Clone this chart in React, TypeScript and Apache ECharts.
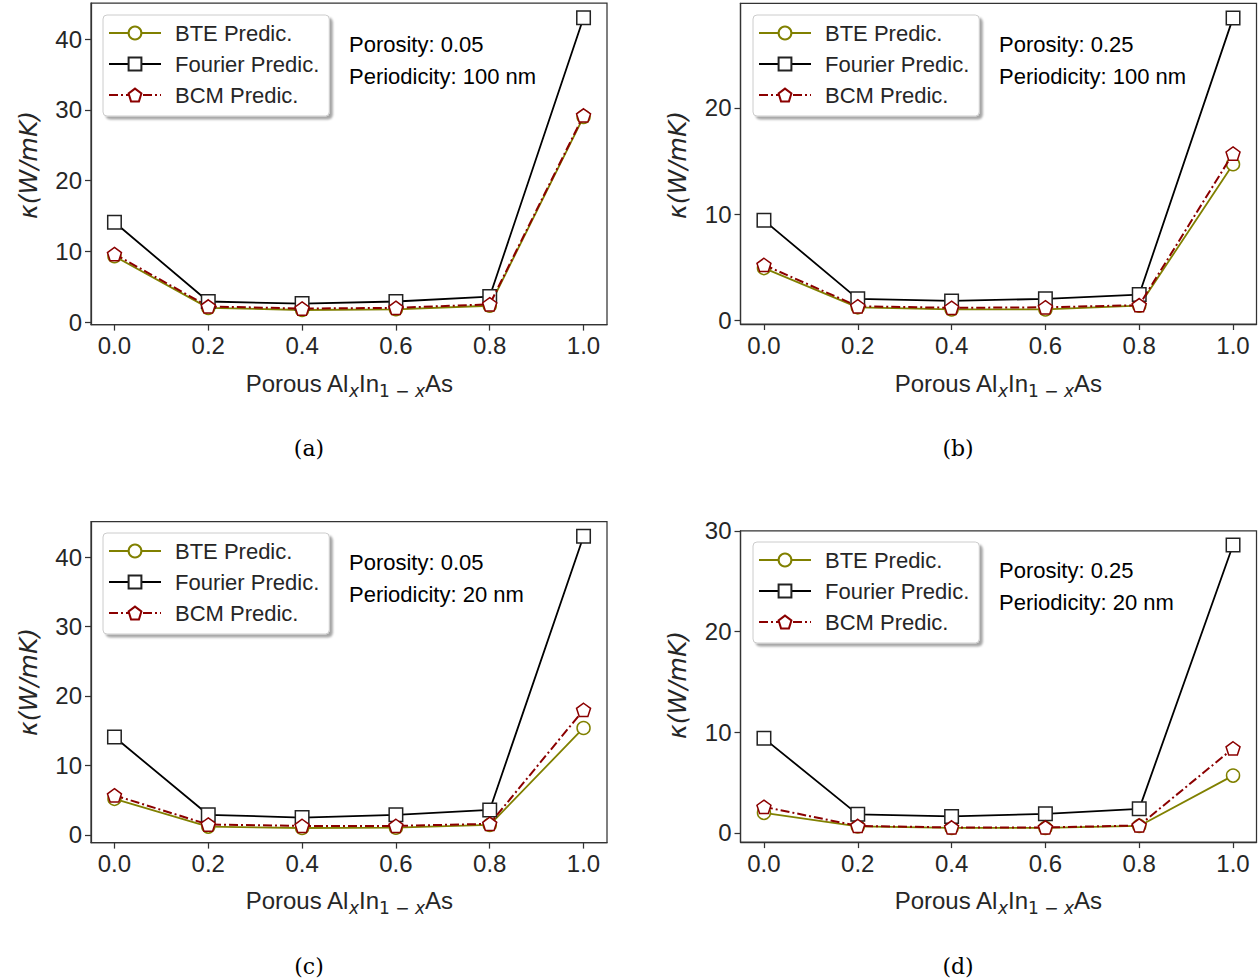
import React, { useEffect, useRef } from "react";
import * as echarts from "echarts";

// ---------- data ----------
const xValues = [0.0, 0.2, 0.4, 0.6, 0.8, 1.0];
const xTicks = [0.0, 0.2, 0.4, 0.6, 0.8, 1.0];

const seriesNames = ["BTE Predic.", "Fourier Predic.", "BCM Predic."];

// (a) Porosity 0.05, Periodicity 100 nm
const bteA = [9.3, 2.0, 1.7, 1.8, 2.3, 29.0];
const fourierA = [14.1, 2.9, 2.6, 2.9, 3.6, 43.0];
const bcmA = [9.6, 2.2, 1.9, 2.0, 2.5, 29.2];
const yTicksA = [0, 10, 20, 30, 40];

// (b) Porosity 0.25, Periodicity 100 nm
const bteB = [4.9, 1.2, 1.0, 1.0, 1.35, 14.7];
const fourierB = [9.4, 2.0, 1.8, 2.0, 2.4, 28.5];
const bcmB = [5.2, 1.3, 1.15, 1.2, 1.4, 15.7];
const yTicksB = [0, 10, 20];

// (c) Porosity 0.05, Periodicity 20 nm
const bteC = [5.2, 1.2, 1.0, 1.05, 1.45, 15.4];
const fourierC = [14.1, 2.9, 2.5, 2.9, 3.6, 43.0];
const bcmC = [5.7, 1.5, 1.3, 1.3, 1.6, 18.0];
const yTicksC = [0, 10, 20, 30, 40];

// (d) Porosity 0.25, Periodicity 20 nm
const bteD = [2.0, 0.65, 0.5, 0.5, 0.7, 5.7];
const fourierD = [9.4, 1.85, 1.65, 1.9, 2.4, 28.6];
const bcmD = [2.6, 0.7, 0.55, 0.55, 0.75, 8.4];
const yTicksD = [0, 10, 20, 30];

const porosities = ["0.05", "0.25", "0.05", "0.25"];
const periodicities = ["100 nm", "100 nm", "20 nm", "20 nm"];
const panelLabels = ["(a)", "(b)", "(c)", "(d)"];

// ---------- layout / style ----------
const OLIVE = "#808000";
const BLACK = "#000000";
const DARKRED = "#8b0000";
const TEXT = "#262626";
const SPINE = "#333333";
const SANS = "Liberation Sans, Arial, sans-serif";

const PENTAGON =
  "path://M0,-1L0.951,-0.309L0.588,0.809L-0.588,0.809L-0.951,-0.309Z";

const layouts = [
  { grid: { left: 91, top: 3.2, width: 516, height: 321.4 }, legend: { left: 103, top: 15 }, cx: 349, ann: { x: 349, y: 44 }, xt: 383, lab: 448, yt: { x: 28, y: 165 } },
  { grid: { left: 740.5, top: 3.3, width: 516, height: 320.7 }, legend: { left: 753, top: 15 }, cx: 998, ann: { x: 999, y: 44 }, xt: 383, lab: 448, yt: { x: 677, y: 165 } },
  { grid: { left: 91, top: 521.6, width: 516, height: 321 }, legend: { left: 103, top: 533 }, cx: 349, ann: { x: 349, y: 562 }, xt: 900, lab: 966, yt: { x: 28, y: 682 } },
  { grid: { left: 740.5, top: 530.9, width: 516, height: 311.2 }, legend: { left: 753, top: 542 }, cx: 998, ann: { x: 999, y: 570 }, xt: 900, lab: 966, yt: { x: 677, y: 685 } },
];

const panelData = [
  { bte: bteA, fourier: fourierA, bcm: bcmA, yTicks: yTicksA },
  { bte: bteB, fourier: fourierB, bcm: bcmB, yTicks: yTicksB },
  { bte: bteC, fourier: fourierC, bcm: bcmC, yTicks: yTicksC },
  { bte: bteD, fourier: fourierD, bcm: bcmD, yTicks: yTicksD },
];

function pairs(ys: number[]) {
  return xValues.map((x, i) => [x, ys[i]]);
}

function buildOption() {
  const grid: any[] = [];
  const xAxis: any[] = [];
  const yAxis: any[] = [];
  const series: any[] = [];
  const legend: any[] = [];
  const graphic: any[] = [];

  panelData.forEach((p, i) => {
    const L = layouts[i];
    grid.push({
      ...L.grid,
      show: true,
      borderColor: SPINE,
      borderWidth: 1.25,
      backgroundColor: "transparent",
      containLabel: false,
      outerBoundsMode: "none",
    });
    xAxis.push({
      type: "value",
      gridIndex: i,
      position: "bottom",
      min: -0.05,
      max: 1.05,
      axisLine: { show: true, onZero: false, lineStyle: { color: SPINE, width: 1.25 } },
      splitLine: { show: false },
      axisTick: {
        show: true,
        inside: false,
        length: 6,
        customValues: xTicks,
        lineStyle: { color: SPINE, width: 1.25 },
      },
      axisLabel: {
        customValues: xTicks,
        formatter: (v: number) => v.toFixed(1),
        fontSize: 24,
        fontFamily: SANS,
        color: TEXT,
        margin: 9,
      },
    });
    const all = [...p.bte, ...p.fourier, ...p.bcm];
    const lo = Math.min(...all);
    const hi = Math.max(...all);
    const pad = (hi - lo) * 0.05;
    yAxis.push({
      type: "value",
      gridIndex: i,
      position: "left",
      min: lo - pad,
      max: hi + pad,
      axisLine: { show: true, onZero: false, lineStyle: { color: SPINE, width: 1.25 } },
      splitLine: { show: false },
      axisTick: {
        show: true,
        inside: false,
        length: 6,
        customValues: p.yTicks,
        lineStyle: { color: SPINE, width: 1.25 },
      },
      axisLabel: {
        customValues: p.yTicks,
        formatter: (v: number) => String(Math.round(v)),
        fontSize: 24,
        fontFamily: SANS,
        color: TEXT,
        margin: 9,
      },
    });

    series.push({
      name: seriesNames[0],
      type: "line",
      xAxisIndex: i,
      yAxisIndex: i,
      data: pairs(p.bte),
      symbol: "circle",
      symbolSize: 13,
      lineStyle: { color: OLIVE, width: 1.8, type: "solid" },
      itemStyle: { color: "#ffffff", borderColor: OLIVE, borderWidth: 1.5 },
      z: 2,
    });
    series.push({
      name: seriesNames[1],
      type: "line",
      xAxisIndex: i,
      yAxisIndex: i,
      data: pairs(p.fourier),
      symbol: "rect",
      symbolSize: 13.5,
      lineStyle: { color: BLACK, width: 1.8, type: "solid" },
      itemStyle: { color: "#ffffff", borderColor: "#222222", borderWidth: 1.5 },
      z: 3,
    });
    series.push({
      name: seriesNames[2],
      type: "line",
      xAxisIndex: i,
      yAxisIndex: i,
      data: pairs(p.bcm),
      symbol: PENTAGON,
      symbolKeepAspect: true,
      symbolSize: 14,
      lineStyle: { color: DARKRED, width: 2, type: [9, 3, 2, 3] },
      itemStyle: { color: "#ffffff", borderColor: DARKRED, borderWidth: 1.5 },
      z: 4,
    });

    legend.push({
      data: seriesNames,
      orient: "vertical",
      left: L.legend.left,
      top: L.legend.top,
      padding: [7, 10, 10, 5],
      itemWidth: 52,
      itemHeight: 16,
      itemGap: 9,
      selectedMode: false,
      backgroundColor: "#ffffff",
      borderColor: "#cccccc",
      borderWidth: 1,
      borderRadius: 4,
      shadowColor: "rgba(0,0,0,0.35)",
      shadowBlur: 2,
      shadowOffsetX: 3,
      shadowOffsetY: 3,
      textStyle: {
        fontSize: 22,
        lineHeight: 22,
        fontFamily: SANS,
        color: TEXT,
        padding: [0, 0, 0, 9],
      },
    });

    graphic.push({
      type: "text",
      x: L.ann.x,
      y: L.ann.y,
      style: {
        text: "Porosity: " + porosities[i],
        fontSize: 22,
        fontFamily: SANS,
        fill: "#000000",
        align: "left",
        verticalAlign: "middle",
      },
    });
    graphic.push({
      type: "text",
      x: L.ann.x,
      y: L.ann.y + 32,
      style: {
        text: "Periodicity: " + periodicities[i],
        fontSize: 22,
        fontFamily: SANS,
        fill: "#000000",
        align: "left",
        verticalAlign: "middle",
      },
    });
    graphic.push({
      type: "text",
      x: L.cx,
      y: L.xt,
      style: {
        text: "{b|Porous Al}{si|x}{b|In}{sn|1 − }{si|x}{b|As}",
        fill: TEXT,
        align: "center",
        verticalAlign: "middle",
        rich: {
          b: { fontSize: 24, lineHeight: 26, fontFamily: SANS, fill: TEXT },
          si: { fontSize: 17, lineHeight: 17, padding: [15, 0, 0, 0], fontStyle: "italic", fontFamily: "DejaVu Sans", fill: TEXT },
          sn: { fontSize: 17, lineHeight: 17, padding: [15, 0, 0, 0], fontFamily: "DejaVu Sans", fill: TEXT },
        },
      },
    });
    graphic.push({
      type: "text",
      x: L.yt.x,
      y: L.yt.y,
      rotation: Math.PI / 2,
      style: {
        text: "κ(W/mK)",
        fontSize: 25,
        fontStyle: "italic",
        fontFamily: "DejaVu Sans",
        fill: TEXT,
        align: "center",
        verticalAlign: "middle",
      },
    });
    graphic.push({
      type: "text",
      x: L.cx - 40,
      y: L.lab,
      style: {
        text: panelLabels[i],
        fontSize: 22,
        fontFamily: "DejaVu Serif, Liberation Serif, serif",
        fill: "#000000",
        align: "center",
        verticalAlign: "middle",
      },
    });
  });

  return {
    animation: false,
    backgroundColor: "#ffffff",
    grid,
    xAxis,
    yAxis,
    series,
    legend,
    graphic,
  };
}

export default function App() {
  const ref = useRef<HTMLDivElement>(null);
  useEffect(() => {
    if (!ref.current) return;
    const chart = echarts.init(ref.current, null, { renderer: "svg" });
    chart.setOption(buildOption() as any);
    return () => {
      chart.dispose();
    };
  }, []);
  return (
    <div
      ref={ref}
      style={{ position: "fixed", left: 0, top: 0, width: 1260, height: 980, background: "#fff" }}
    />
  );
}
